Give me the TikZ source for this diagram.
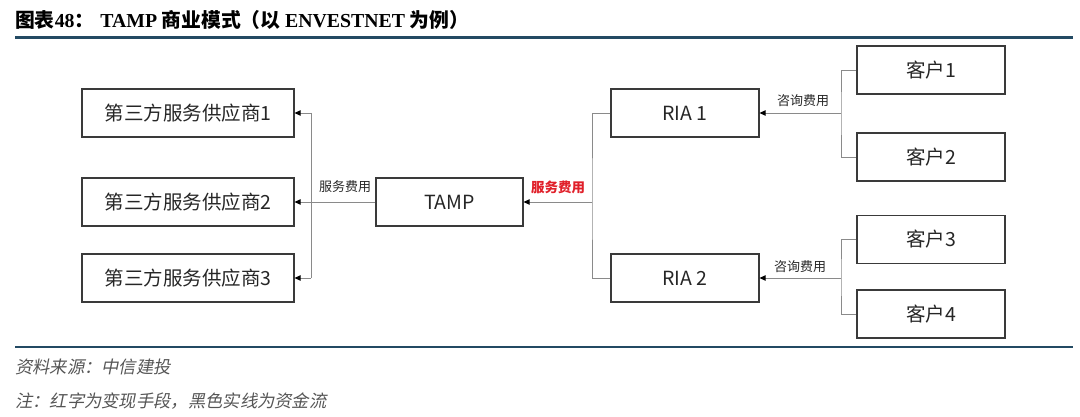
\documentclass[tikz,border=0pt]{standalone}
\usepackage{fontspec}
\setmainfont{Noto Sans CJK SC}
\newfontfamily\cjk{Noto Sans CJK SC}
\newfontfamily\tnr{Liberation Serif}
\newfontfamily\cjkit{Noto Sans CJK SC}[FakeSlant=0.2]
\usetikzlibrary{arrows.meta}
\definecolor{rulecol}{HTML}{234A63}
\definecolor{boxcol}{HTML}{3A3A3A}
\definecolor{linecol}{HTML}{8A8A8A}
\definecolor{txtcol}{HTML}{262626}
\definecolor{notecol}{HTML}{555555}
\definecolor{redlab}{HTML}{E0202A}
\begin{document}
\begin{tikzpicture}[x=1pt,y=-1pt,
  box/.style={draw=boxcol,line width=1.2pt,rectangle,inner sep=0pt,
    minimum height=48pt,text=txtcol,font=\cjk\fontsize{19.5}{22}\selectfont},
  supbox/.style={box,minimum width=212pt},
  midbox/.style={box,minimum width=148pt},
  conn/.style={draw=linecol,line width=0.9pt},
  arr/.style={conn,-{Triangle[length=6pt,width=5.5pt,fill=black,color=black]}},
  flab/.style={text=txtcol,font=\cjk\fontsize{13}{15}\selectfont,inner sep=0pt},
  note/.style={anchor=west,text=notecol,font=\cjkit\fontsize{17.3}{19}\selectfont,inner sep=0pt}
]
\useasboundingbox (0,0) rectangle (1080,417);

% title
\node[anchor=west,inner sep=0pt,text=black] (title) at (15,20)
  {\fontsize{19.8}{22}\selectfont\bfseries{\cjk 图表}{\tnr 48}{\cjk ：}\hspace{6pt}{\tnr TAMP} {\cjk 商业模式（以} {\tnr ENVESTNET} {\cjk 为例）}};
\draw[rulecol,line width=3pt] (15,38) -- (1073,38);
\draw[rulecol,line width=2.5pt] (15,347) -- (1073,347);

% suppliers
\node[supbox] (s1) at (188,113) {第三方服务供应商1};
\node[supbox] (s2) at (188,202) {第三方服务供应商2};
\node[supbox] (s3) at (188,278) {第三方服务供应商3};

% TAMP
\node[midbox,minimum width=147pt] (tamp) at (449.5,202) {TAMP};

% RIA
\node[midbox] (r1) at (685,113) {RIA 1};
\node[midbox] (r2) at (685,278) {RIA 2};

% clients
\node[midbox] (c1) at (931,70) {客户1};
\node[midbox] (c2) at (931,157) {客户2};
\node[midbox] (c3) at (931,239.5) {客户3};
\node[midbox] (c4) at (931,314) {客户4};

% junction coordinates
\coordinate (jl) at (311,202);
\coordinate (jr) at (592,202);
\coordinate (k1) at (841,113);
\coordinate (k2) at (841,278);

% left side
\draw[conn] (tamp.west) -- (jl);
\draw[conn] (s1.east -| jl) -- (s3.east -| jl);
\draw[arr] (s1.east -| jl) -- (s1.east);
\draw[arr] (jl) -- (s2.east);
\draw[arr] (s3.east -| jl) -- (s3.east);

% right side
\draw[conn] (r1.west) -| (jr) |- (r2.west);
\draw[arr] (jr) -- (tamp.east);

% clients to RIA
\draw[conn] (c1.west) -| (k1) |- (c2.west);
\draw[arr] (k1) -- (r1.east);
\draw[conn] (c3.west) -| (k2) |- (c4.west);
\draw[arr] (k2) -- (r2.east);

% labels
\node[flab] (l1) at (345,187) {服务费用};
\node[flab,text=redlab,font=\cjk\bfseries\fontsize{13.5}{15}\selectfont] (l2) at (558,187) {服务费用};
\node[flab] (l3) at (803,101) {咨询费用};
\node[flab] (l4) at (800,267) {咨询费用};

% notes
\node[note] (n1) at (15,367) {资料来源：中信建投};
\node[note] (n2) at (15,401) {注：红字为变现手段，黑色实线为资金流};
\end{tikzpicture}
\end{document}
